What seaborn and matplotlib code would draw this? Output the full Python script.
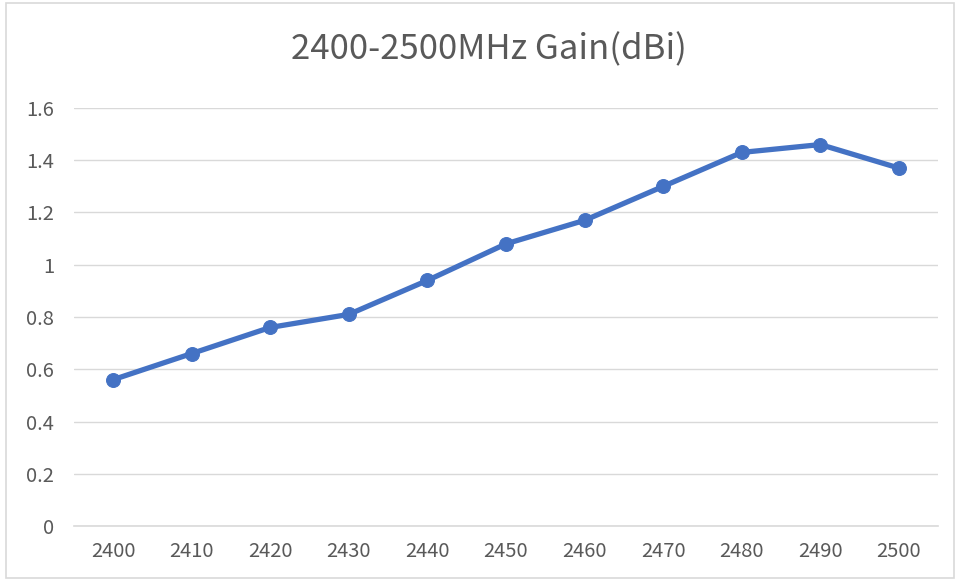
import matplotlib
matplotlib.use("Agg")
import matplotlib.pyplot as plt
import seaborn as sns
import pandas as pd
from matplotlib.patches import Rectangle
from matplotlib.ticker import FuncFormatter

# ── Data ──────────────────────────────────────────────────
freq_mhz = ["2400", "2410", "2420", "2430", "2440", "2450",
            "2460", "2470", "2480", "2490", "2500"]
gain_dbi = [0.56, 0.66, 0.76, 0.81, 0.94, 1.08,
            1.17, 1.30, 1.43, 1.46, 1.37]
y_ticks = [0, 0.2, 0.4, 0.6, 0.8, 1.0, 1.2, 1.4, 1.6]
title = "2400-2500MHz Gain(dBi)"

df = pd.DataFrame({"freq": freq_mhz, "gain": gain_dbi})

sns.set_style("white")
plt.rcParams["font.family"] = ["Noto Sans CJK SC", "DejaVu Sans"]
plt.rcParams["font.weight"] = "light"

TEXT = "#595959"
GRID = "#D9D9D9"
BLUE = "#4472C4"

W, H = 958, 581
fig = plt.figure(figsize=(W / 100, H / 100), dpi=100)

# chart-area border like the Excel frame
fig.patches.append(Rectangle((6 / W, 3 / H), 948 / W, 575 / H,
                             transform=fig.transFigure, fill=False,
                             edgecolor=GRID, linewidth=1.2))

ax = fig.add_axes([73.7 / W, (H - 526) / H, (938.3 - 73.7) / W, (526 - 108) / H])

sns.lineplot(data=df, x="freq", y="gain", ax=ax, color=BLUE,
             linewidth=3.8, marker="o", markersize=10,
             markeredgecolor=BLUE, sort=False)

ax.set_xlim(-0.5, len(freq_mhz) - 0.5)
ax.set_ylim(0, 1.6)
ax.set_yticks(y_ticks)
ax.yaxis.set_major_formatter(FuncFormatter(lambda v, _: f"{v:g}"))
ax.grid(axis="y", color=GRID, linewidth=1.0)
ax.grid(axis="x", visible=False)
ax.set_axisbelow(True)

for side in ["top", "right", "left"]:
    ax.spines[side].set_visible(False)
ax.spines["bottom"].set_color(GRID)
ax.spines["bottom"].set_linewidth(1.2)

ax.tick_params(axis="both", length=0, labelsize=14.5, colors=TEXT)
ax.tick_params(axis="y", pad=14)
ax.tick_params(axis="x", pad=11)
ax.set_xlabel("")
ax.set_ylabel("")

fig.text(489 / W, 1 - 50 / H, title, ha="center", va="center",
         fontsize=25, color=TEXT, fontweight="light")

fig.savefig("out.png", dpi=100)
